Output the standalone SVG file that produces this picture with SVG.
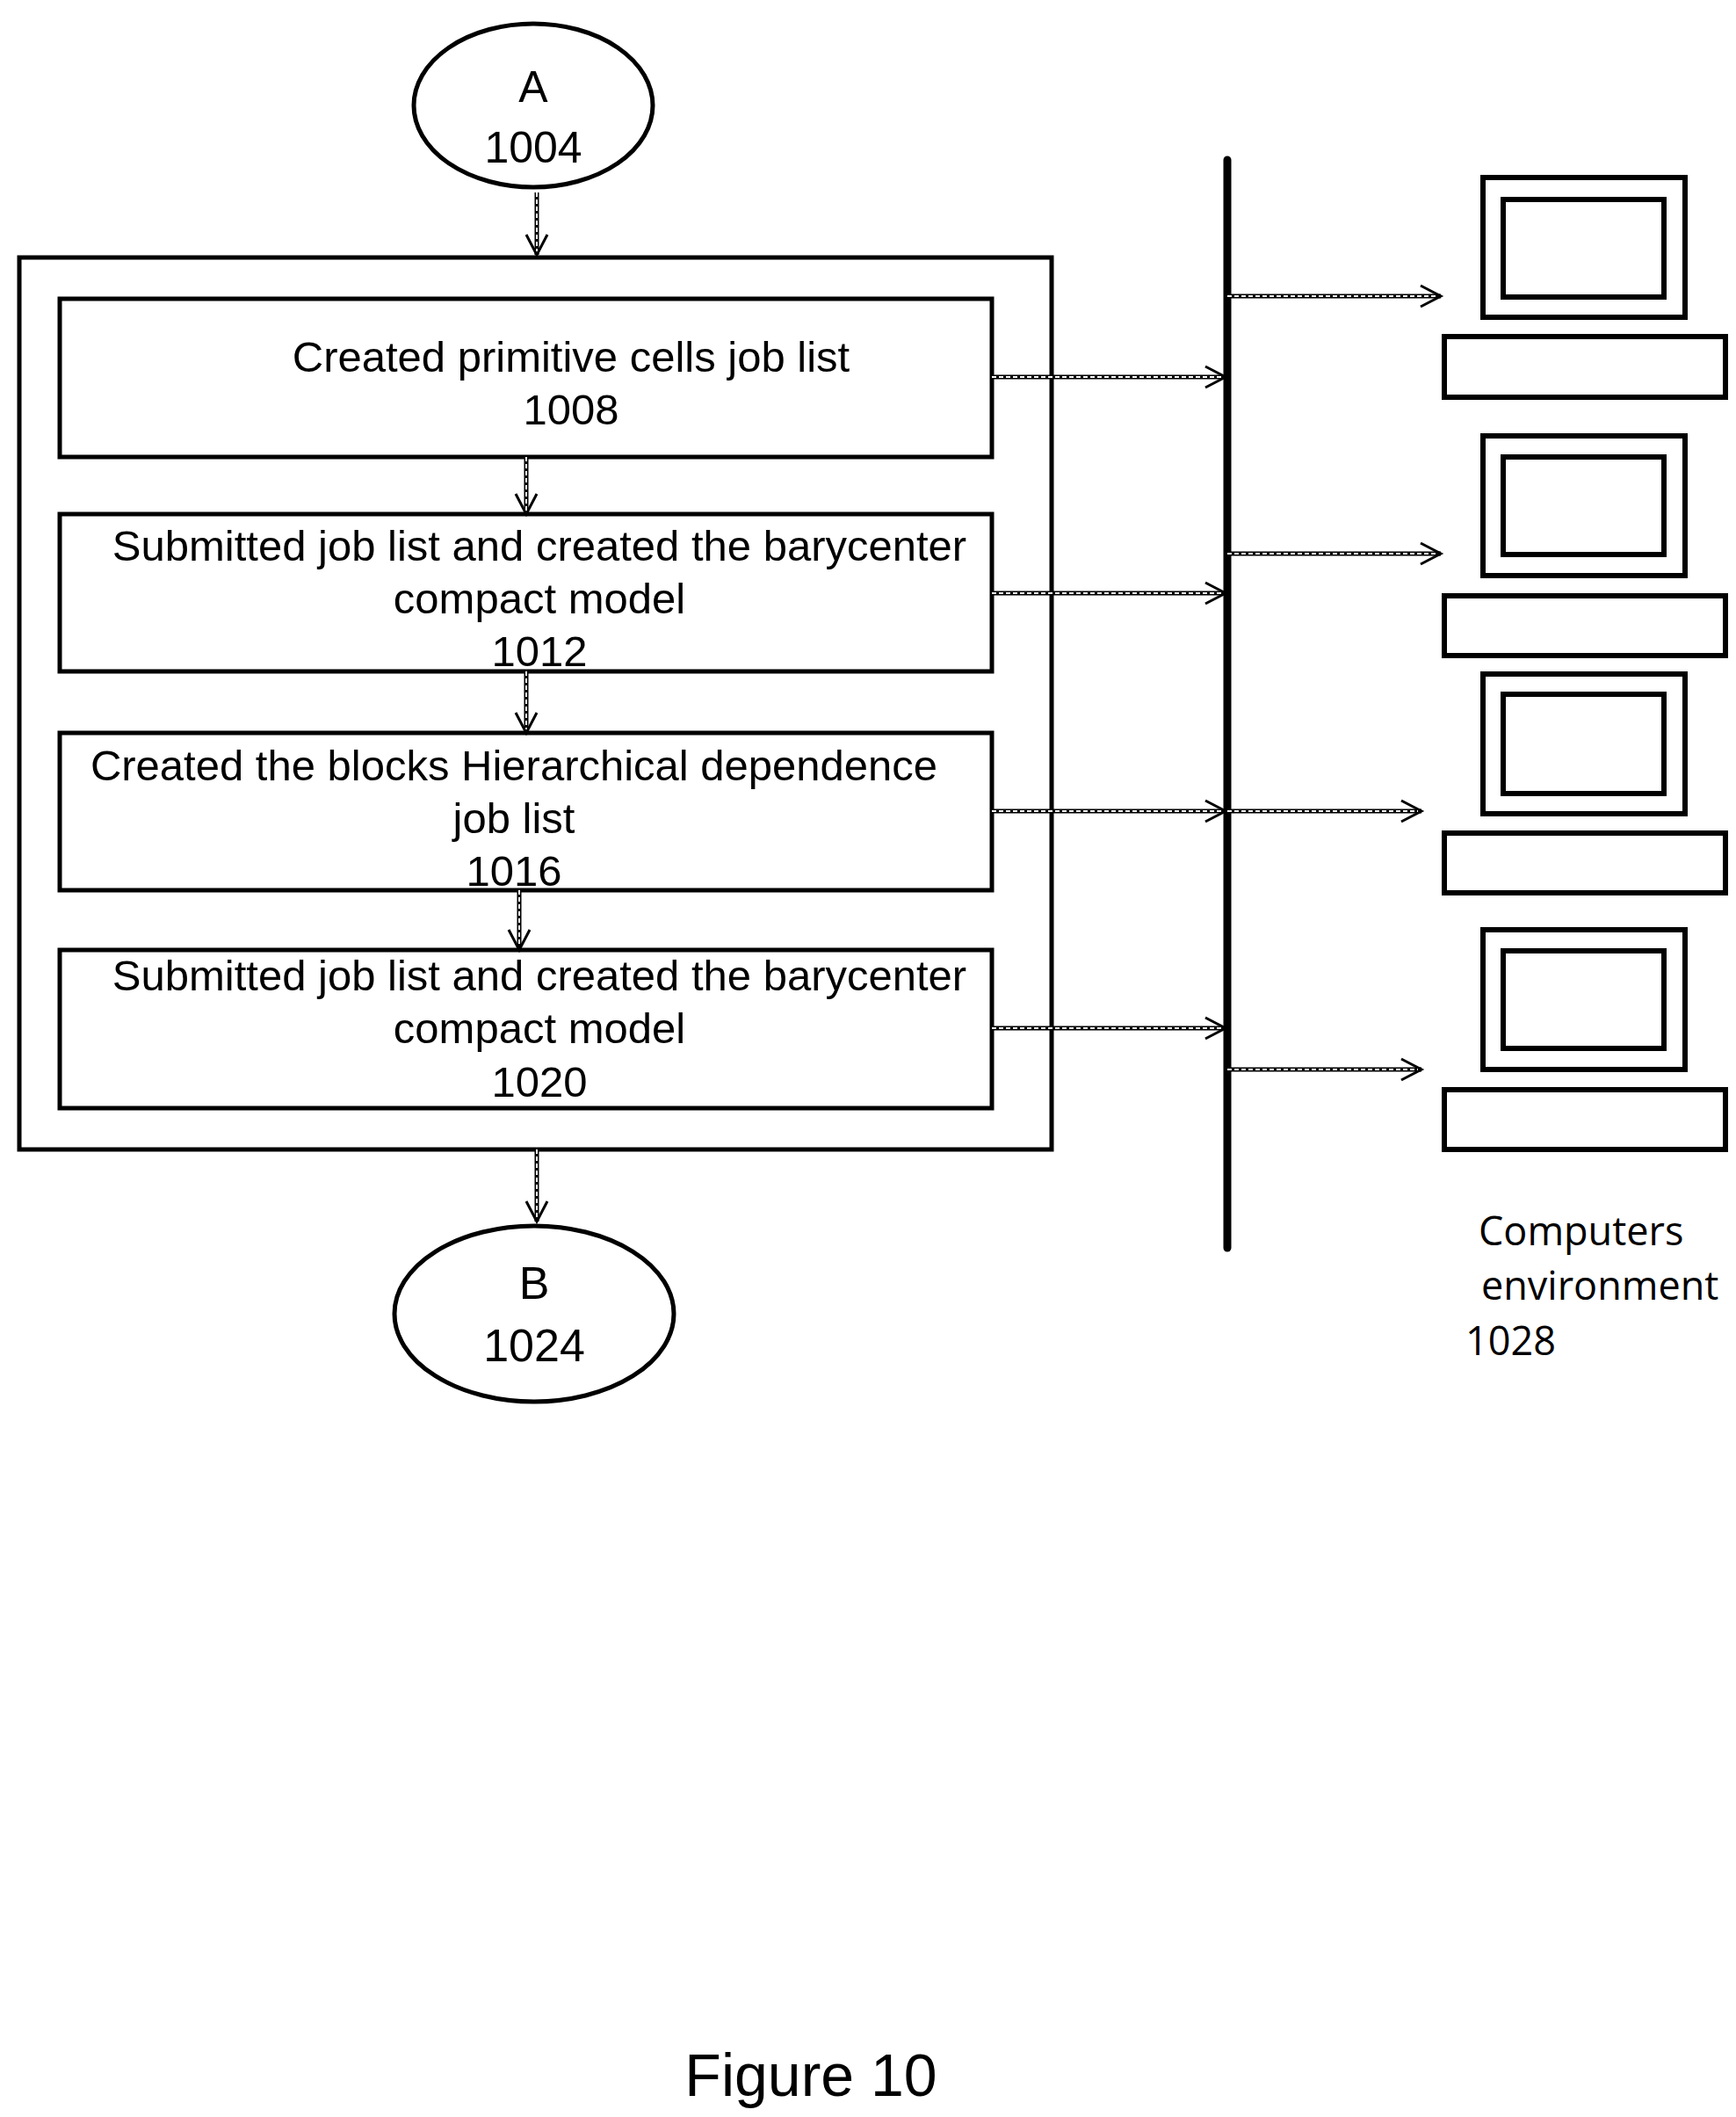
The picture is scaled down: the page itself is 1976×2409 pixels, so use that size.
<svg xmlns="http://www.w3.org/2000/svg" width="1976" height="2409" viewBox="0 0 1976 2409">
<style>
.b{fill:none;stroke:#000;stroke-width:5}
.t{font-family:"Liberation Sans",Arial,sans-serif;font-size:49px;text-anchor:middle;fill:#000}
.c{font-family:"Open Sans","Liberation Sans",sans-serif;font-size:45px;fill:#000}
.a1{stroke:#000;stroke-width:5;fill:none}
.a2{stroke:#fff;stroke-width:2;stroke-dasharray:5 3;fill:none}
</style>
<defs>
<marker id="h" markerWidth="30" markerHeight="30" refX="26" refY="15" orient="auto" markerUnits="userSpaceOnUse">
<path d="M3,3 L26,15 L3,27" fill="none" stroke="#000" stroke-width="3"/>
</marker>
</defs>
<rect width="1976" height="2409" fill="#fff"/>
<g id="nodeA"><ellipse cx="607" cy="120" rx="136" ry="93" class="b"/><text class="t" x="607" y="116" style="font-size:50px">A</text><text class="t" x="607" y="185" style="font-size:50px">1004</text></g>
<g id="outer"><rect x="22" y="293" width="1175" height="1015" class="b"/></g>
<g id="n1008"><rect x="68" y="340" width="1061" height="180" class="b"/><text class="t" x="650" y="423">Created primitive cells job list</text><text class="t" x="650" y="483">1008</text></g>
<g id="n1012"><rect x="68" y="585" width="1061" height="179" class="b"/><text class="t" x="614" y="638">Submitted job list and created the barycenter</text><text class="t" x="614" y="698">compact model</text><text class="t" x="614" y="758">1012</text></g>
<g id="n1016"><rect x="68" y="834" width="1061" height="179" class="b"/><text class="t" x="585" y="888">Created the blocks Hierarchical dependence</text><text class="t" x="585" y="948">job list</text><text class="t" x="585" y="1008">1016</text></g>
<g id="n1020"><rect x="68" y="1081" width="1061" height="180" class="b"/><text class="t" x="614" y="1127">Submitted job list and created the barycenter</text><text class="t" x="614" y="1187">compact model</text><text class="t" x="614" y="1248">1020</text></g>
<g id="nodeB"><ellipse cx="608" cy="1495" rx="159" ry="100" class="b"/><text class="t" x="608" y="1478" style="font-size:52px">B</text><text class="t" x="608" y="1549" style="font-size:52px">1024</text></g>
<g id="bus"><line x1="1397" y1="182" x2="1397" y2="1420" stroke="#000" stroke-width="9" stroke-linecap="round"/></g>
<g id="computers" fill="none" stroke="#000" stroke-width="6">
<rect x="1688" y="202" width="230" height="159"/><rect x="1711" y="227" width="183" height="111"/><rect x="1644" y="383" width="320" height="69"/>
<rect x="1688" y="496" width="230" height="159"/><rect x="1711" y="520" width="183" height="111"/><rect x="1644" y="678" width="320" height="68"/>
<rect x="1688" y="767" width="230" height="159"/><rect x="1711" y="790" width="183" height="113"/><rect x="1644" y="948" width="320" height="68"/>
<rect x="1688" y="1058" width="230" height="159"/><rect x="1711" y="1082" width="183" height="111"/><rect x="1644" y="1240" width="320" height="68"/>
</g>
<g id="env"><text class="c" x="1683" y="1417">Computers</text><text class="c" x="1686" y="1479">environment</text><text class="c" x="1668" y="1542">1028</text></g>
<g id="connectors">
<path class="a1" marker-end="url(#h)" d="M611,219V290"/>
<path class="a1" marker-end="url(#h)" d="M599,520V585"/>
<path class="a1" marker-end="url(#h)" d="M599,764V834"/>
<path class="a1" marker-end="url(#h)" d="M591,1013V1081"/>
<path class="a1" marker-end="url(#h)" d="M611,1308V1390"/>
<path class="a1" marker-end="url(#h)" d="M1129,429H1395"/>
<path class="a1" marker-end="url(#h)" d="M1129,675H1395"/>
<path class="a1" marker-end="url(#h)" d="M1129,923H1395"/>
<path class="a1" marker-end="url(#h)" d="M1129,1170H1395"/>
<path class="a1" marker-end="url(#h)" d="M1397,337H1640"/>
<path class="a1" marker-end="url(#h)" d="M1397,630H1640"/>
<path class="a1" marker-end="url(#h)" d="M1397,923H1618"/>
<path class="a1" marker-end="url(#h)" d="M1397,1217H1618"/>
<path class="a2" d="M611,219V286 M599,520V581 M599,764V830 M591,1013V1077 M611,1308V1386 M1129,429H1391 M1129,675H1391 M1129,923H1391 M1129,1170H1391 M1397,337H1636 M1397,630H1636 M1397,923H1614 M1397,1217H1614"/>
</g>
<text class="t" x="923" y="2385" style="font-size:68px">Figure 10</text>
</svg>
